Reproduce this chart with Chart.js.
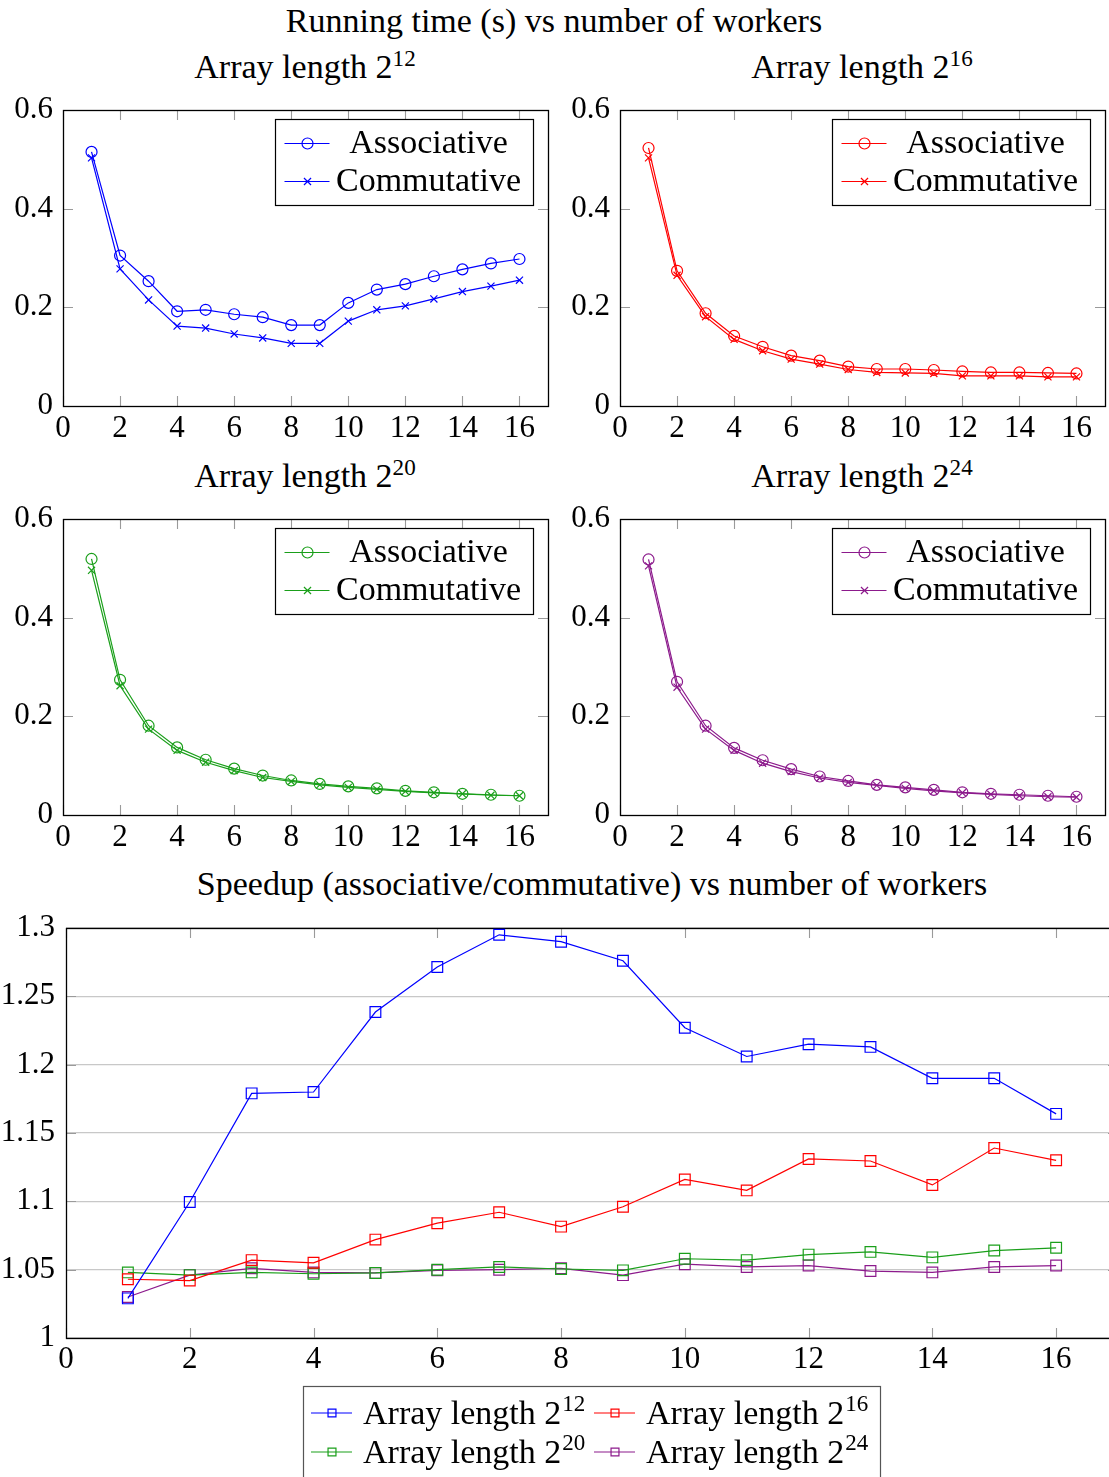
<!DOCTYPE html>
<html><head><meta charset="utf-8">
<script src="https://cdn.jsdelivr.net/npm/chart.js@4/dist/chart.umd.min.js"></script>
<style>
html,body{margin:0;padding:0;background:#fff;width:1109px;height:1477px;overflow:hidden;position:relative}
canvas{position:absolute;left:0;top:0}
.t{position:absolute;font-family:"Liberation Serif","Times New Roman",Tinos,"DejaVu Serif",serif;color:#000;white-space:nowrap;transform:translate(-50%,-50%);font-size:34px;line-height:1}
.t sup{font-size:0.68em;vertical-align:0;position:relative;top:-0.5em}
</style></head><body>
<div class="t" style="left:554px;top:21px">Running time (s) vs number of workers</div>
<div class="t" style="left:305px;top:67px">Array length 2<sup>12</sup></div>
<div class="t" style="left:862px;top:67px">Array length 2<sup>16</sup></div>
<div class="t" style="left:305px;top:476px">Array length 2<sup>20</sup></div>
<div class="t" style="left:862px;top:476px">Array length 2<sup>24</sup></div>
<div class="t" style="left:592px;top:884px">Speedup (associative/commutative) vs number of workers</div>
<canvas id="c12" width="1200" height="1477"></canvas>
<canvas id="c16" width="1200" height="1477"></canvas>
<canvas id="c20" width="1200" height="1477"></canvas>
<canvas id="c24" width="1200" height="1477"></canvas>
<canvas id="cs" width="1200" height="1477"></canvas>
<script>
// ---- data ----
const workers = [1,2,3,4,5,6,7,8,9,10,11,12,13,14,15,16];
const assoc12 = [0.515,0.305,0.253,0.192,0.195,0.186,0.180,0.164,0.164,0.209,0.236,0.247,0.263,0.277,0.289,0.298];
const comm12  = [0.503,0.278,0.215,0.162,0.158,0.146,0.138,0.127,0.127,0.172,0.195,0.203,0.217,0.232,0.243,0.255];
const assoc16 = [0.523,0.274,0.188,0.142,0.120,0.102,0.092,0.080,0.075,0.075,0.073,0.070,0.068,0.068,0.067,0.066];
const comm16  = [0.503,0.265,0.181,0.135,0.112,0.095,0.085,0.074,0.068,0.067,0.066,0.061,0.061,0.061,0.059,0.059];
const assoc20 = [0.519,0.274,0.181,0.137,0.112,0.094,0.080,0.070,0.063,0.058,0.054,0.049,0.046,0.043,0.041,0.039];
const comm20  = [0.496,0.262,0.174,0.131,0.107,0.090,0.076,0.068,0.061,0.056,0.052,0.048,0.045,0.043,0.040,0.039];
const assoc24 = [0.518,0.270,0.181,0.136,0.111,0.093,0.078,0.069,0.061,0.056,0.051,0.046,0.043,0.041,0.039,0.037];
const comm24  = [0.505,0.259,0.174,0.131,0.105,0.088,0.075,0.066,0.060,0.054,0.049,0.045,0.042,0.039,0.037,0.036];
const speedup12 = [1.029,1.0995,1.179,1.180,1.2385,1.2715,1.295,1.290,1.276,1.227,1.206,1.215,1.213,1.190,1.190,1.164];
const speedup16 = [1.043,1.042,1.057,1.055,1.072,1.084,1.092,1.0815,1.096,1.116,1.108,1.131,1.1295,1.112,1.139,1.130];
const speedup20 = [1.048,1.046,1.048,1.047,1.0476,1.050,1.052,1.0505,1.0495,1.058,1.057,1.061,1.063,1.059,1.064,1.066];
const speedup24 = [1.030,1.046,1.051,1.048,1.0476,1.0495,1.050,1.051,1.046,1.054,1.052,1.053,1.049,1.048,1.052,1.053];
const seriesNames = ['Associative','Commutative'];
const lengthLabel = 'Array length 2';
const lengthExponents = ['12','16','20','24'];
const workerTicks = [0,2,4,6,8,10,12,14,16];
const timeTicks = [0,0.2,0.4,0.6];
const speedupTicks = [1,1.05,1.1,1.15,1.2,1.25,1.3];

// ---- styles ----
const FONT = '"Liberation Serif", "Times New Roman", Tinos, "DejaVu Serif", serif';
const COLORS = ['#0000ff','#ff0000','#1a9f1a','#8c1a8c'];
const W = 1200, H = 1477;
const TICK_SIZE = 31;

function drawMarker(ctx, style, r, x, y) {
  ctx.save();
  ctx.beginPath();
  if (style === 'circle') { ctx.arc(x, y, r, 0, Math.PI*2); }
  else if (style === 'crossRot') { const d = r*Math.SQRT1_2; ctx.moveTo(x-d,y-d); ctx.lineTo(x+d,y+d); ctx.moveTo(x+d,y-d); ctx.lineTo(x-d,y+d); }
  else { const s = r*Math.SQRT1_2; ctx.rect(x-s, y-s, 2*s, 2*s); }
  ctx.stroke();
  ctx.restore();
}

const framePlugin = {
  id: 'frame',
  beforeDatasetsDraw(chart, args, opts) {
    const {ctx, chartArea: a, scales: {x, y}} = chart;
    ctx.save();
    ctx.strokeStyle = '#9a9a9a'; ctx.lineWidth = 1.1;
    const L = 10;
    ctx.beginPath();
    x.ticks.forEach(t => {
      const px = Math.round(x.getPixelForValue(t.value)) + 0.5;
      ctx.moveTo(px, a.bottom); ctx.lineTo(px, a.bottom - L);
      ctx.moveTo(px, a.top); ctx.lineTo(px, a.top + L);
    });
    y.ticks.forEach(t => {
      const py = Math.round(y.getPixelForValue(t.value)) + 0.5;
      ctx.moveTo(a.left, py); ctx.lineTo(a.left + L, py);
      ctx.moveTo(a.right, py); ctx.lineTo(a.right - L, py);
    });
    ctx.stroke();
    ctx.strokeStyle = '#000'; ctx.lineWidth = 1.3;
    ctx.strokeRect(Math.round(a.left)+0.5, Math.round(a.top)+0.5, Math.round(a.right-a.left), Math.round(a.bottom-a.top));
    ctx.restore();
  }
};

const insideLegend = {
  id: 'insideLegend',
  afterDraw(chart, args, opts) {
    if (!opts.show) return;
    const {ctx, chartArea: a} = chart;
    const bx = Math.round(a.right - 273) + 0.5, by = Math.round(a.top + 9) + 0.5, bw = 258, bh = 86;
    ctx.save();
    ctx.fillStyle = '#fff'; ctx.fillRect(bx, by, bw, bh);
    ctx.strokeStyle = '#000'; ctx.lineWidth = 1.2; ctx.strokeRect(bx, by, bw, bh);
    chart.data.datasets.forEach((ds, i) => {
      const cy = by + 24 + i * 38;
      ctx.strokeStyle = ds.borderColor; ctx.lineWidth = ds.borderWidth;
      ctx.beginPath(); ctx.moveTo(bx + 9, cy); ctx.lineTo(bx + 54, cy); ctx.stroke();
      drawMarker(ctx, ds.pointStyle, i === 0 ? 5.5 : 5, bx + 32, cy);
      ctx.fillStyle = '#000'; ctx.font = '34px ' + FONT; ctx.textAlign = 'center'; ctx.textBaseline = 'middle';
      ctx.fillText(ds.label, bx + 153, cy + 1);
    });
    ctx.restore();
  }
};

const bottomLegend = {
  id: 'bottomLegend',
  afterDraw(chart, args, opts) {
    if (!opts.show) return;
    const ctx = chart.ctx;
    ctx.save();
    ctx.strokeStyle = '#555'; ctx.lineWidth = 1.2;
    ctx.strokeRect(303.5, 1386.5, 577, 100);
    const cols = [311, 594], rows = [1413, 1452];
    chart.data.datasets.forEach((ds, i) => {
      const lx = cols[i % 2], cy = rows[Math.floor(i / 2)];
      ctx.strokeStyle = ds.borderColor; ctx.lineWidth = ds.borderWidth;
      ctx.beginPath(); ctx.moveTo(lx, cy); ctx.lineTo(lx + 41, cy); ctx.stroke();
      drawMarker(ctx, 'rect', 5.6, lx + 21, cy);
      ctx.fillStyle = '#000'; ctx.textAlign = 'left'; ctx.textBaseline = 'alphabetic';
      ctx.font = '34px ' + FONT;
      const base = cy + 11;
      ctx.fillText(lengthLabel, lx + 52, base);
      const w = ctx.measureText(lengthLabel).width;
      ctx.font = '23px ' + FONT;
      ctx.fillText(lengthExponents[i], lx + 52 + w + 1, base - 13);
    });
    ctx.restore();
  }
};

function fixTicks(values) {
  return (scale) => { scale.ticks = values.map(v => ({value: v})); };
}

function baseScales(xMax, yMin, yMax, yTicks, yWidth, xPad, yPad) {
  return {
    x: {
      type: 'linear', min: 0, max: xMax,
      afterBuildTicks: fixTicks(workerTicks),
      afterFit: s => { s.height = 50; },
      grid: {display: false, drawTicks: false},
      border: {display: false},
      ticks: {font: {family: FONT, size: TICK_SIZE}, color: '#000', padding: xPad, maxRotation: 0, autoSkip: false,
              callback: v => String(v)}
    },
    y: {
      type: 'linear', min: yMin, max: yMax,
      afterBuildTicks: fixTicks(yTicks),
      afterFit: s => { s.width = yWidth; },
      grid: {display: false, drawTicks: false},
      border: {display: false},
      ticks: {font: {family: FONT, size: TICK_SIZE}, color: '#000', padding: yPad, autoSkip: false,
              callback: v => String(+v.toFixed(2))}
    }
  };
}

function padFor(area, yWidth) {
  return {left: area.left - yWidth, top: area.top, right: W - area.right, bottom: H - area.bottom - 50};
}

function runChart(id, area, assoc, comm, color) {
  const yWidth = 60;
  new Chart(document.getElementById(id), {
    type: 'line',
    data: {
      datasets: [
        {label: seriesNames[0], data: workers.map((w, i) => ({x: w, y: assoc[i]})), borderColor: color, borderWidth: 1.2,
         pointStyle: 'circle', pointRadius: 5.5, pointBorderWidth: 1.2, pointBackgroundColor: 'rgba(0,0,0,0)', pointBorderColor: color, tension: 0},
        {label: seriesNames[1], data: workers.map((w, i) => ({x: w, y: comm[i]})), borderColor: color, borderWidth: 1.2,
         pointStyle: 'crossRot', pointRadius: 5, pointBorderWidth: 1.2, pointBackgroundColor: 'rgba(0,0,0,0)', pointBorderColor: color, tension: 0}
      ]
    },
    options: {
      responsive: false, animation: false, devicePixelRatio: 1,
      layout: {padding: padFor(area, yWidth)},
      plugins: {legend: {display: false}, tooltip: {enabled: false}, title: {display: false},
                insideLegend: {show: true}, bottomLegend: {show: false}},
      scales: baseScales(17, 0, 0.6, timeTicks, yWidth, 4, 10)
    },
    plugins: [framePlugin, insideLegend, bottomLegend]
  });
}

runChart('c12', {left: 63, top: 110, right: 548, bottom: 406}, assoc12, comm12, COLORS[0]);
runChart('c16', {left: 620, top: 110, right: 1105, bottom: 406}, assoc16, comm16, COLORS[1]);
runChart('c20', {left: 63, top: 519, right: 548, bottom: 815}, assoc20, comm20, COLORS[2]);
runChart('c24', {left: 620, top: 519, right: 1105, bottom: 815}, assoc24, comm24, COLORS[3]);

// speedup chart
(function () {
  const area = {left: 66, top: 928, right: 1118, bottom: 1338};
  const yWidth = 66;
  const sets = [speedup12, speedup16, speedup20, speedup24];
  const scales = baseScales(17, 1, 1.3, speedupTicks, yWidth, 3, 11);
  scales.y.grid = {display: true, drawTicks: false, color: '#c8c8c8', lineWidth: 1.3};
  new Chart(document.getElementById('cs'), {
    type: 'line',
    data: {
      datasets: sets.map((s, i) => ({
        label: lengthLabel + lengthExponents[i],
        data: workers.map((w, j) => ({x: w, y: s[j]})),
        borderColor: COLORS[i], borderWidth: 1.2, pointStyle: 'rect', pointRadius: 7.6, pointBorderWidth: 1.2,
        pointBackgroundColor: 'rgba(0,0,0,0)', pointBorderColor: COLORS[i], tension: 0
      }))
    },
    options: {
      responsive: false, animation: false, devicePixelRatio: 1,
      layout: {padding: padFor(area, yWidth)},
      plugins: {legend: {display: false}, tooltip: {enabled: false}, title: {display: false},
                insideLegend: {show: false}, bottomLegend: {show: true}},
      scales
    },
    plugins: [framePlugin, insideLegend, bottomLegend]
  });
})();
</script>
</body></html>
